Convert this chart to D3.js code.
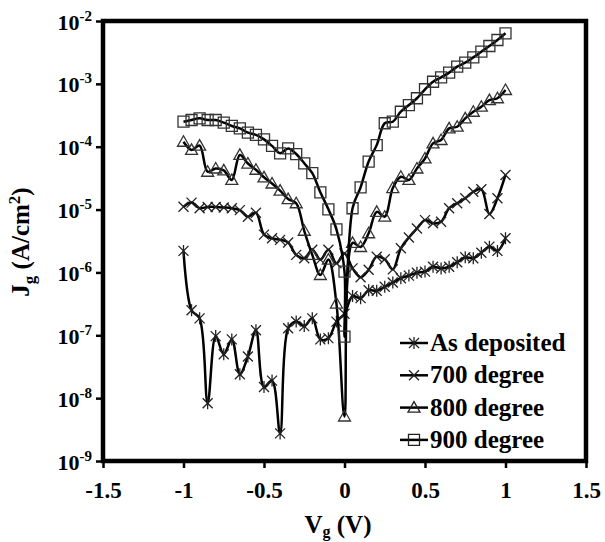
<!DOCTYPE html>
<html><head><meta charset="utf-8">
<script src="https://cdn.jsdelivr.net/npm/d3@7"></script>
<style>
body{margin:0;background:#fff}
svg{display:block}
text{font-family:"Liberation Serif","Times New Roman",serif;font-weight:bold;fill:#000}
</style>
</head><body>
<svg id="c" width="605" height="542"></svg>
<script>
// ---- data ----
const vg = [-1,-0.95,-0.9,-0.85,-0.8,-0.75,-0.7,-0.65,-0.6,-0.55,-0.5,-0.45,-0.4,-0.35,-0.3,-0.25,-0.2,-0.15,-0.1,-0.05,0,0.05,0.1,0.15,0.2,0.25,0.3,0.35,0.4,0.45,0.5,0.55,0.6,0.65,0.7,0.75,0.8,0.85,0.9,0.95,1];
const asDeposited = [2.2e-6,2.5e-7,1.86e-7,8.3e-9,9.7e-8,5.0e-8,8.6e-8,2.4e-8,4.6e-8,1.2e-7,1.5e-8,1.9e-8,2.75e-9,1.29e-7,1.66e-7,1.4e-7,1.86e-7,8.6e-8,9.0e-8,1.65e-7,2.2e-7,4.2e-7,3.9e-7,5.2e-7,5.1e-7,5.9e-7,6.9e-7,8.1e-7,8.9e-7,9.9e-7,1.03e-6,1.23e-6,1.16e-6,1.23e-6,1.45e-6,1.74e-6,1.68e-6,2.06e-6,2.57e-6,2.2e-6,3.5e-6];
const deg700 = [1.11e-5,1.29e-5,1.05e-5,1.1e-5,1.1e-5,1.08e-5,1.05e-5,9.8e-6,7.7e-6,8.9e-6,4.0e-6,3.5e-6,3.3e-6,3.0e-6,1.9e-6,1.68e-6,2.3e-6,1.6e-6,2.3e-6,1.4e-6,2.0e-6,1.16e-6,8.4e-7,1.1e-6,1.78e-6,1.62e-6,1.12e-6,2.42e-6,3.6e-6,5.0e-6,6.8e-6,6.05e-6,6.4e-6,1.05e-5,1.26e-5,1.51e-5,1.92e-5,2.1e-5,8.5e-6,1.51e-5,3.55e-5];
const deg800 = [1.2e-4,8.9e-5,1.04e-4,4.0e-5,4.5e-5,4.2e-5,2.96e-5,7.4e-5,5.4e-5,4.3e-5,3.26e-5,2.6e-5,2.0e-5,1.47e-5,1.26e-5,4.6e-6,1.9e-6,9.1e-7,1.6e-6,3.2e-7,5.1e-9,2.95e-6,2.54e-6,4.2e-6,9.2e-6,7.7e-6,2.2e-5,3.33e-5,2.96e-5,4.5e-5,6.5e-5,1.13e-4,1.28e-4,1.96e-4,2.08e-4,2.83e-4,3.6e-4,4.33e-4,5.5e-4,5.9e-4,7.98e-4];
const vg900 = [-1,-0.95,-0.9,-0.85,-0.8,-0.75,-0.7,-0.65,-0.6,-0.55,-0.5,-0.45,-0.4,-0.35,-0.3,-0.25,-0.2,-0.15,-0.1,-0.05,0,0,0.05,0.1,0.15,0.2,0.25,0.3,0.35,0.4,0.45,0.5,0.55,0.6,0.65,0.7,0.75,0.8,0.85,0.9,0.95,1];
const deg900 = [2.5e-4,2.66e-4,2.83e-4,2.66e-4,2.66e-4,2.41e-4,2.14e-4,1.96e-4,1.67e-4,1.54e-4,1.31e-4,1.03e-4,7.85e-5,9.4e-5,7.65e-5,5.45e-5,3.8e-5,1.88e-5,1.01e-5,4.85e-6,1.03e-6,9.5e-8,1.05e-5,2.26e-5,5.8e-5,1.06e-4,2.36e-4,2.5e-4,3.6e-4,4.6e-4,5.9e-4,8.2e-4,1.08e-3,1.27e-3,1.51e-3,1.88e-3,2.17e-3,2.64e-3,3.25e-3,4.0e-3,4.99e-3,6.37e-3];
const xTicks = [-1.5,-1,-0.5,0,0.5,1,1.5];
const yTickExp = [-9,-8,-7,-6,-5,-4,-3,-2];
const seriesNames = ["As deposited","700 degree","800 degree","900 degree"];
const markerTypes = ["star","cross","triangle","square"];

// ---- layout ----
const svg = d3.select("#c");
const L = 103, R = 586, T = 21, B = 461;
const x = d3.scaleLinear().domain([-1.5, 1.5]).range([L, R]);
const y = d3.scaleLog().domain([1e-9, 1e-2]).range([B, T]);

function markerPath(type) {
  const s = 5;
  if (type === "star") return `M${-s},${-s}L${s},${s}M${-s},${s}L${s},${-s}M0,${-s-1}L0,${s+1}`;
  if (type === "cross") return `M${-s},${-s}L${s},${s}M${-s},${s}L${s},${-s}`;
  if (type === "triangle") return `M0,-6L6,4.5L-6,4.5Z`;
  return `M-5.5,-5.5H5.5V5.5H-5.5Z`;
}

const series = [
  {name: seriesNames[0], type: markerTypes[0], pts: vg.map((v, i) => [v, asDeposited[i]])},
  {name: seriesNames[1], type: markerTypes[1], pts: vg.map((v, i) => [v, deg700[i]])},
  {name: seriesNames[2], type: markerTypes[2], pts: vg.map((v, i) => [v, deg800[i]])},
  {name: seriesNames[3], type: markerTypes[3], pts: vg900.map((v, i) => [v, deg900[i]])}
];

const line = d3.line().x(d => x(d[0])).y(d => y(d[1])).curve(d3.curveCatmullRom.alpha(0.5));

// axes
const xAxis = d3.axisBottom(x).tickValues(xTicks).tickSize(7).tickSizeOuter(0).tickFormat(d => String(d));
const gx = svg.append("g").attr("transform", `translate(0,${B})`).call(xAxis);
gx.select(".domain").remove();
gx.selectAll(".tick line").attr("stroke", "#000").attr("stroke-width", 2.5);
gx.selectAll(".tick text").attr("y", 21).attr("dy", "0.71em").style("font-size", "23px").style("font-family", '"Liberation Serif",serif').style("font-weight", "bold").attr("fill", "#000");

const yAxis = d3.axisLeft(y).tickValues(yTickExp.map(e => Math.pow(10, e))).tickSize(7).tickSizeOuter(0).tickFormat("");
const gy = svg.append("g").attr("transform", `translate(${L},0)`).call(yAxis);
gy.select(".domain").remove();
gy.selectAll(".tick line").attr("stroke", "#000").attr("stroke-width", 2.5);
gy.selectAll(".tick").each(function(d) {
  const e = Math.round(Math.log10(d));
  const t = d3.select(this).append("text").attr("x", -11).attr("y", 8).attr("text-anchor", "end")
    .style("font-size", "22px");
  t.append("tspan").text("10");
  t.append("tspan").attr("dy", -9).style("font-size", "15px").text(String(e));
});

// series
const gs = svg.append("g");
series.forEach(s => {
  gs.append("path").attr("d", line(s.pts)).attr("fill", "none").attr("stroke", "#000").attr("stroke-width", 2.5);
  gs.selectAll(null).data(s.pts).join("path")
    .attr("transform", d => `translate(${x(d[0])},${y(d[1])})`)
    .attr("d", markerPath(s.type))
    .attr("fill", "none")
    .attr("stroke", s.type === "square" || s.type === "triangle" ? "#333" : "#222")
    .attr("stroke-width", 1.3);
});

// frame
svg.append("rect").attr("x", L).attr("y", T).attr("width", R - L).attr("height", B - T)
  .attr("fill", "none").attr("stroke", "#000").attr("stroke-width", 4.5);

// legend
const lg = svg.append("g");
series.forEach((s, i) => {
  const cy = 343 + i * 32.3;
  lg.append("line").attr("x1", 400).attr("x2", 428).attr("y1", cy).attr("y2", cy).attr("stroke", "#000").attr("stroke-width", 2.5);
  lg.append("path").attr("transform", `translate(414,${cy})`).attr("d", markerPath(s.type)).attr("fill", "none")
    .attr("stroke", "#222").attr("stroke-width", 1.3);
  lg.append("text").attr("x", 430).attr("y", cy + 8).style("font-size", "25px").text(s.name);
});

// axis titles
const xt = svg.append("text").attr("x", 338).attr("y", 533).attr("text-anchor", "middle").style("font-size", "25px");
xt.append("tspan").text("V");
xt.append("tspan").attr("dy", 4).style("font-size", "16px").text("g");
xt.append("tspan").attr("dy", -4).text(" (V)");

const yt = svg.append("text").attr("transform", "translate(29,242) rotate(-90)").attr("text-anchor", "middle").style("font-size", "25px");
yt.append("tspan").text("J");
yt.append("tspan").attr("dy", 6).style("font-size", "17px").text("g");
yt.append("tspan").attr("dy", -6).text(" (A/cm");
yt.append("tspan").attr("dy", -9).style("font-size", "17px").text("2");
yt.append("tspan").attr("dy", 9).text(")");
</script>
</body></html>
